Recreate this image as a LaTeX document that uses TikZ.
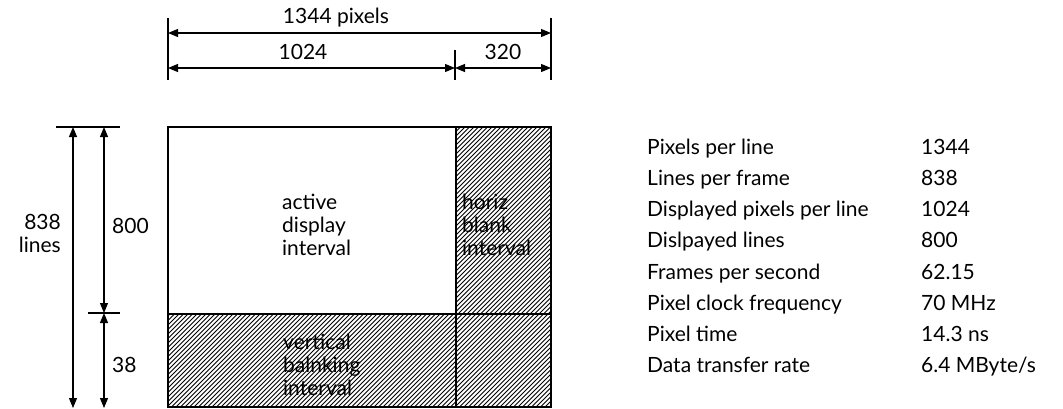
\documentclass[tikz,border=0pt]{standalone}
\usepackage{fontspec}
\setmainfont{Lato}
\usepackage{tikz}
\usetikzlibrary{arrows.meta, positioning}

\begin{document}
\begin{tikzpicture}[x=1pt, y=-1pt,
      lbl/.style={font=\fontsize{21}{23}\selectfont, inner sep=0pt},
      inner/.style={lbl, align=left, anchor=west},
      row/.style={lbl, anchor=base west},
      dim/.style={line width=1.1pt, {Triangle[length=10pt,width=8pt]}-{Triangle[length=10pt,width=8pt]}},
      ext/.style={line width=1.1pt},
      frame/.style={line width=1.4pt},
      hatch/.style={line width=0.8pt}]
      \useasboundingbox (0,0) rectangle (1063,408);

      % frame corners
      \coordinate (tl) at (168,127);
      \coordinate (tm) at (456,127);
      \coordinate (tr) at (551,127);
      \coordinate (ml) at (168,314);
      \coordinate (mm) at (456,314);
      \coordinate (mr) at (551,314);
      \coordinate (bl) at (168,407);
      \coordinate (bm) at (456,407);
      \coordinate (br) at (551,407);

      % hatched blanking areas
      \begin{scope}
        \clip (tm) -- (tr) -- (br) -- (bl) -- (ml) -- (mm) -- cycle;
        \foreach \x in {-115,-110.5,...,555}
          \draw[hatch] (\x,410) -- (\x+283,127);
      \end{scope}

      % frame
      \draw[frame] (tl) rectangle (br);
      \draw[frame] (tm) -- (bm);
      \draw[frame] (ml) -- (mr);

      % area labels
      \node[inner] (act)  at (282,225) {active\\display\\interval};
      \node[inner] (hor)  at (462,225) {horiz\\blank\\interval};
      \node[inner] (vert) at (283,365) {vertical\\balnking\\interval};

      % horizontal dimensions
      \coordinate (hl) at (168,18);
      \coordinate (hlb) at (168,80);
      \coordinate (hm) at (455,50);
      \coordinate (hmb) at (455,80);
      \coordinate (hr) at (551,18);
      \coordinate (hrb) at (551,80);
      \draw[ext] (hl) -- (hlb);
      \draw[ext] (hm) -- (hmb);
      \draw[ext] (hr) -- (hrb);
      \draw[dim] (168,33) -- (551,33);
      \draw[dim] (168,68) -- (455,68);
      \draw[dim] (455,68) -- (551,68);
      \node[lbl] (tot) at (336,18) {1344 pixels};
      \node[lbl] (act-w) at (303,52) {1024};
      \node[lbl] (hbl-w) at (503,52) {320};

      % vertical dimensions
      \coordinate (vt1) at (56,127);
      \coordinate (vt2) at (120,127);
      \coordinate (vm1) at (88,313);
      \coordinate (vm2) at (120,313);
      \draw[ext] (vt1) -- (vt2);
      \draw[ext] (vm1) -- (vm2);
      \draw[dim] (73,127) -- (73,408);
      \draw[dim] (104,127) -- (104,313);
      \draw[dim] (104,313) -- (104,408);
      \node[lbl, align=right, anchor=east] (lines) at (61,233) {838\\lines};
      \node[lbl, anchor=west] (act-h) at (112,226) {800};
      \node[lbl, anchor=west] (vbl-h) at (112,365) {38};

      % timing table (baselines)
      \node[row] (k1) at (647,154) {Pixels per line};
      \node[row] (k2) at (647,185) {Lines per frame};
      \node[row] (k3) at (647,216) {Displayed pixels per line};
      \node[row] (k4) at (647,247) {Dislpayed lines};
      \node[row] (k5) at (647,279) {Frames per second};
      \node[row] (k6) at (647,310) {Pixel clock frequency};
      \node[row] (k7) at (647,341) {Pixel time};
      \node[row] (k8) at (647,372) {Data transfer rate};
      \node[row] (v1) at (921,154) {1344};
      \node[row] (v2) at (921,185) {838};
      \node[row] (v3) at (921,216) {1024};
      \node[row] (v4) at (921,247) {800};
      \node[row] (v5) at (921,279) {62.15};
      \node[row] (v6) at (921,310) {70 MHz};
      \node[row] (v7) at (921,341) {14.3 ns};
      \node[row] (v8) at (921,372) {6.4 MByte/s};
    \end{tikzpicture}
\end{document}
